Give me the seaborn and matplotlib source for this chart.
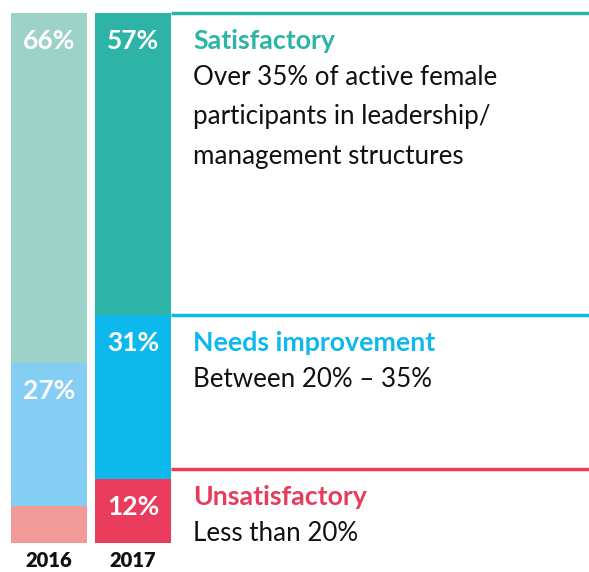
import matplotlib
matplotlib.use("Agg")
import matplotlib.pyplot as plt
import matplotlib.transforms as mtransforms
import seaborn as sns

years = ["2016", "2017"]
satisfactory = [66, 57]
needs_improvement = [27, 31]
unsatisfactory = [7, 12]

colors_2016 = ["#9dd2c9", "#84cef3", "#f29a9a"]
colors_2017 = ["#2db4a7", "#0db8ed", "#e93b5b"]

categories = ["Satisfactory", "Needs improvement", "Unsatisfactory"]
descriptions = [
    "Over 35% of active female\nparticipants in leadership/\nmanagement structures",
    "Between 20% \u2013 35%",
    "Less than 20%",
]

sns.set_style("white")
plt.rcParams["font.family"] = ["Lato", "DejaVu Sans"]

W, H = 589, 572
fig = plt.figure(figsize=(W / 100, H / 100), dpi=100)
bar_w = 76 / 84
ax = fig.add_axes([11 / W, (H - 543) / H, 160 / W, 530 / H])

layers = [satisfactory, needs_improvement, unsatisfactory]
tops = []
for i in range(3):
    cum = [sum(layer[j] for layer in layers[i:]) for j in range(2)]
    tops.append(cum)
    sns.barplot(x=years, y=cum, hue=years, palette=[colors_2016[i], colors_2017[i]],
                legend=False, width=bar_w, saturation=1, ax=ax, linewidth=0)

ax.set_xlim(-bar_w / 2, 1 + bar_w / 2)
ax.set_ylim(0, 100)
sns.despine(ax=ax, left=True, bottom=True)
ax.set_yticks([])
ax.tick_params(axis="x", length=0, pad=6)
ax.set_xticks([0, 1])
ax.set_xticklabels(years, fontsize=14.5, fontweight="heavy", color="#111111")
ax.set_xlabel("")

# percent labels inside bars (skip the small 2016 slice)
for i, layer in enumerate(layers):
    for j in range(2):
        if i == 2 and j == 0:
            continue
        ax.annotate(f"{layer[j]}%", (j, tops[i][j]), xytext=(0, -28),
                    textcoords="offset pixels", ha="center", va="center",
                    color="white", fontsize=19, fontweight="bold")

# legend-like rules and text at right
trans = mtransforms.blended_transform_factory(fig.transFigure, ax.transData)
line_offsets = [0, 0, 10]
for i in range(3):
    y = tops[i][1]
    off = mtransforms.ScaledTranslation(0, line_offsets[i] / 100, fig.dpi_scale_trans)
    ax.plot([171 / W, 1], [y, y], color=colors_2017[i], lw=2.5,
            transform=trans + off, clip_on=False, solid_capstyle="butt")
    ax.annotate(categories[i], (193 / W, y), xycoords=trans,
                xytext=(0, line_offsets[i] - 28), textcoords="offset pixels",
                ha="left", va="center", color=colors_2017[i],
                fontsize=19.3, fontweight="bold")
    ax.annotate(descriptions[i], (193 / W, y), xycoords=trans,
                xytext=(0, line_offsets[i] - 52), textcoords="offset pixels",
                ha="left", va="top", color="#111111",
                fontsize=18.7, linespacing=1.72)

fig.savefig("out.png", dpi=100)
